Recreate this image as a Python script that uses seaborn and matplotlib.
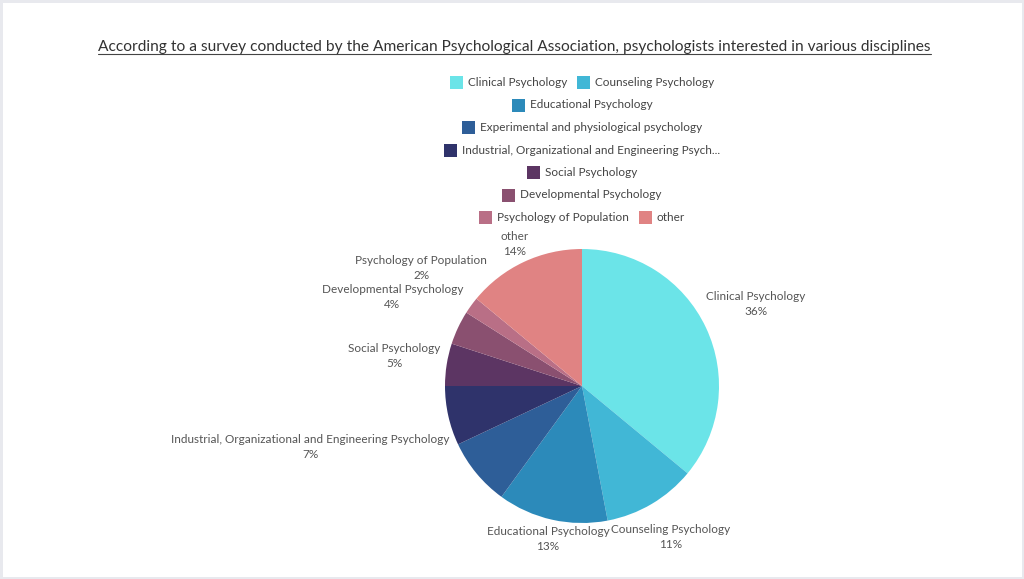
import numpy as np
import matplotlib
matplotlib.use("Agg")
import matplotlib.pyplot as plt
import seaborn as sns
from matplotlib.patches import Rectangle
from matplotlib.lines import Line2D

sns.set_theme(style="white")
plt.rcParams['font.family'] = ['Lato', 'DejaVu Sans']

# ---------------- data ----------------
title = ("According to a survey conducted by the American Psychological Association, "
         "psychologists interested in various disciplines")
categories = [
    "Clinical Psychology",
    "Counseling Psychology",
    "Educational Psychology",
    "Experimental and physiological psychology",
    "Industrial, Organizational and Engineering Psychology",
    "Social Psychology",
    "Developmental Psychology",
    "Psychology of Population",
    "other",
]
values = [36, 11, 13, 8, 7, 5, 4, 2, 14]
colors = ["#6be4e8", "#41b7d6", "#2c8aba", "#2e5e98", "#2f336b",
          "#5c3563", "#8a5070", "#b96f86", "#e08383"]
legend_rows = [[0, 1], [2], [3], [4], [5], [6], [7, 8]]
show_label = [True, True, True, False, True, True, True, True, True]
# label nudges (pixels, x right / y up) and horizontal alignment
label_nudge = [(0, 24), (19, -33), (-4, -19), (0, 0), (1, -31), (-6, 9), (5, 31), (16, 37), (-9, 18)]
label_ha = ["left", "center", "center", "center", "right", "right", "right", "right", "center"]

W, H = 1024, 579
fig = plt.figure(figsize=(W / 100, H / 100), dpi=100)
fig.patch.set_facecolor("#e8e9ee")
ax = fig.add_axes([0, 0, 1, 1])
ax.set_xlim(0, W)
ax.set_ylim(0, H)
ax.set_aspect("equal")
ax.axis("off")

# white card
ax.add_patch(Rectangle((3, 2), W - 5, H - 5, facecolor="white", edgecolor="none", zorder=0))

cx, cy, r = 582, H - 386, 137
wedges, _ = ax.pie(values, colors=colors, startangle=90, counterclock=False,
                   center=(cx, cy), radius=r, frame=True,
                   wedgeprops=dict(linewidth=0))
ax.set_xlim(0, W)
ax.set_ylim(0, H)
ax.axis("off")

total = sum(values)
txt_color = "#555555"
for i, w in enumerate(wedges):
    if not show_label[i]:
        continue
    th = np.deg2rad((w.theta1 + w.theta2) / 2)
    ex, ey = cx + r * np.cos(th), cy + r * np.sin(th)
    dx, dy = label_nudge[i]
    ax.annotate(f"{categories[i]}\n{round(values[i] / total * 100)}%",
                xy=(ex, ey), xytext=(dx, dy), textcoords="offset pixels",
                ha=label_ha[i], va="center", multialignment="center",
                fontsize=8.5, color=txt_color, linespacing=1.45)

# title with underline
t = fig.text(0.5025, 1 - 46.5 / H, title, ha="center", va="center", fontsize=11.2, color="#333333")
fig.canvas.draw()
renderer = fig.canvas.get_renderer()
bb = t.get_window_extent(renderer)
uy = H - 54
ax.add_line(Line2D([bb.x0, bb.x1], [uy, uy], color="#444444", linewidth=0.8))

# legend, manual centered rows
def short(s, n=48):
    return s if len(s) <= n else s[:n] + "..."

sq = 13
gap_t = 5
gap_item = 10
row_y0 = H - 82.5
row_dy = 22.5
for ri, row in enumerate(legend_rows):
    y = row_y0 - ri * row_dy
    items = []
    for idx in row:
        tt = ax.text(0, y, short(categories[idx]), fontsize=8.5, color="#444444", va="center", ha="left")
        wpx = tt.get_window_extent(renderer).width
        items.append((idx, tt, wpx))
    total_w = sum(sq + gap_t + wpx for _, _, wpx in items) + gap_item * (len(items) - 1)
    x = cx - total_w / 2
    for idx, tt, wpx in items:
        ax.add_patch(Rectangle((x, y - sq / 2), sq, sq, facecolor=colors[idx], edgecolor="none"))
        tt.set_x(x + sq + gap_t)
        x += sq + gap_t + wpx + gap_item

fig.savefig("out.png", dpi=100, facecolor=fig.get_facecolor())
